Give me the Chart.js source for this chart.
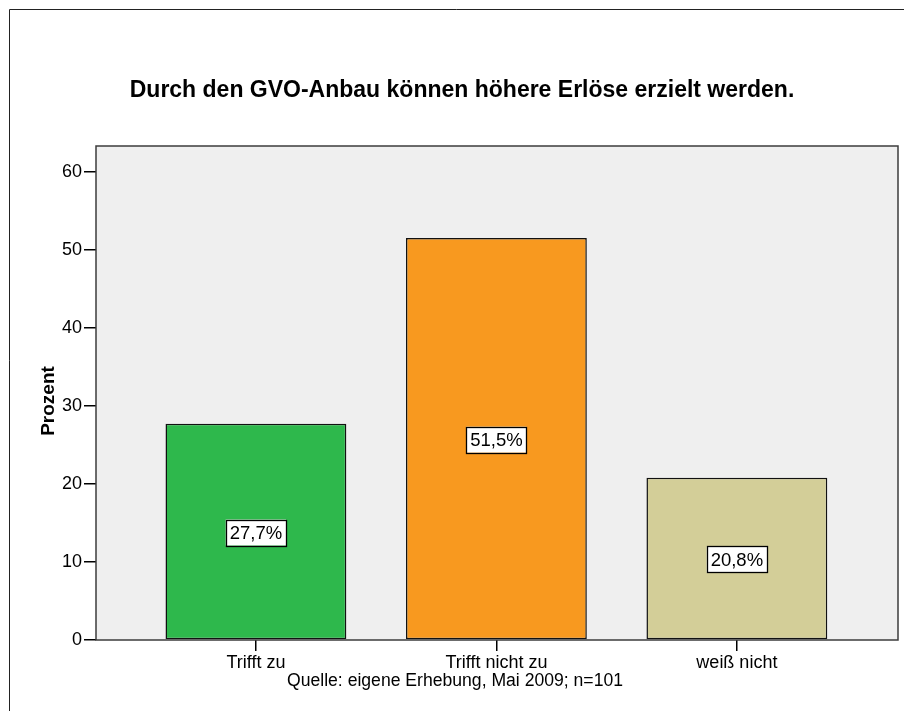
<!DOCTYPE html>
<html>
<head>
<meta charset="utf-8">
<script src="https://cdn.jsdelivr.net/npm/chart.js@4"></script>
<style>
html,body{margin:0;padding:0;background:#fff;}
#wrap{width:904px;height:711px;position:relative;}
</style>
</head>
<body>
<div id="wrap"><canvas id="c"></canvas></div>
<script>
const categories = ['Trifft zu', 'Trifft nicht zu', 'weiß nicht'];
const percentages = [27.7, 51.5, 20.8];
const barColors = ['#2eb84c', '#f8991f', '#d3ce98'];
const yTicks = [0, 10, 20, 30, 40, 50, 60];
const titleText = 'Durch den GVO-Anbau können höhere Erlöse erzielt werden.';
const yTitleText = 'Prozent';
const sourceText = 'Quelle: eigene Erhebung, Mai 2009; n=101';

const FONT = '"Liberation Sans", Arial, sans-serif';

const decor = {
  id: 'decor',
  beforeDatasetsDraw(chart) {
    const {ctx, chartArea: a} = chart;
    ctx.save();
    ctx.fillStyle = '#efefef';
    ctx.fillRect(a.left, a.top, a.right - a.left, a.bottom - a.top);
    ctx.restore();
  },
  afterDatasetsDraw(chart) {
    const {ctx, chartArea: a} = chart;
    ctx.save();
    ctx.strokeStyle = '#3c3c3c';
    ctx.lineWidth = 1.5;
    ctx.strokeRect(a.left, a.top, a.right - a.left, a.bottom - a.top);
    const meta = chart.getDatasetMeta(0);
    ctx.font = '18.5px ' + FONT;
    ctx.textAlign = 'center';
    ctx.textBaseline = 'middle';
    meta.data.forEach((bar, i) => {
      const txt = percentages[i].toFixed(1).replace('.', ',') + '%';
      const cx = bar.x;
      const cy = (bar.y + bar.base) / 2 + 1;
      const w = ctx.measureText(txt).width + 8;
      const h = 26;
      ctx.fillStyle = '#ffffff';
      ctx.fillRect(cx - w / 2, cy - h / 2, w, h);
      ctx.strokeStyle = '#000';
      ctx.lineWidth = 1.3;
      ctx.strokeRect(Math.round(cx - w / 2) + 0.5, Math.round(cy - h / 2) + 0.5, Math.round(w), h);
      ctx.fillStyle = '#000';
      ctx.fillText(txt, cx, cy + 1);
    });
    ctx.restore();
  },
  afterDraw(chart) {
    const {ctx, chartArea: a} = chart;
    ctx.save();
    ctx.strokeStyle = '#222';
    ctx.lineWidth = 1;
    ctx.beginPath();
    ctx.moveTo(9.5, chart.height);
    ctx.lineTo(9.5, 9.5);
    ctx.lineTo(chart.width, 9.5);
    ctx.stroke();
    ctx.fillStyle = '#000';
    ctx.textAlign = 'center';
    ctx.textBaseline = 'alphabetic';
    ctx.font = 'bold 23px ' + FONT;
    ctx.fillText(titleText, 462, 97);
    ctx.save();
    ctx.translate(54, (a.top + a.bottom) / 2 + 8);
    ctx.rotate(-Math.PI / 2);
    ctx.font = 'bold 19px ' + FONT;
    ctx.fillText(yTitleText, 0, 0);
    ctx.restore();
    ctx.font = '17.6px ' + FONT;
    ctx.fillText(sourceText, 455, 686);
    ctx.restore();
  }
};

new Chart(document.getElementById('c'), {
  type: 'bar',
  data: {
    datasets: [{
      data: percentages.map((v, i) => ({x: i, y: v})),
      backgroundColor: barColors,
      borderColor: '#111',
      borderWidth: 1.5,
      borderSkipped: false,
      barPercentage: 0.752,
      categoryPercentage: 1
    }]
  },
  options: {
    responsive: true,
    maintainAspectRatio: false,
    animation: false,
    layout: {padding: {left: 0, top: 146, right: 6, bottom: 0}},
    plugins: {legend: {display: false}, tooltip: {enabled: false}, title: {display: false}},
    scales: {
      x: {
        type: 'linear',
        offset: false,
        min: -0.665,
        max: 2.67,
        afterBuildTicks: s => { s.ticks = categories.map((c, i) => ({value: i})); },
        afterFit: s => { s.height = 71; },
        ticks: {
          callback: v => categories[v],
          color: '#000',
          font: {family: FONT, size: 18},
          padding: 1,
          maxRotation: 0,
          autoSkip: false
        },
        grid: {offset: false, drawOnChartArea: false, drawTicks: true, tickLength: 11, color: '#000', lineWidth: 1.5},
        border: {display: false}
      },
      y: {
        min: 0,
        max: 63.3,
        afterBuildTicks: s => { s.ticks = yTicks.map(v => ({value: v})); },
        afterFit: s => { s.width = 96; },
        ticks: {
          color: '#000',
          font: {family: FONT, size: 18},
          padding: 2
        },
        grid: {drawOnChartArea: false, drawTicks: true, tickLength: 12, color: '#000', lineWidth: 1.5},
        border: {display: false}
      }
    }
  },
  plugins: [decor]
});
</script>
</body>
</html>
